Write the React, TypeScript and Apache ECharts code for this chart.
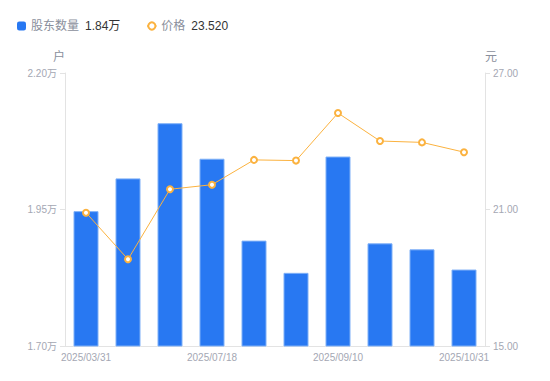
import React, { useEffect, useRef } from "react";
import * as echarts from "echarts";

const categories = [
  "2025/03/31",
  "2025/04/30",
  "2025/06/30",
  "2025/07/18",
  "2025/07/31",
  "2025/08/20",
  "2025/09/10",
  "2025/09/30",
  "2025/10/20",
  "2025/10/31",
];
const holders = [1.947, 2.007, 2.108, 2.043, 1.893, 1.834, 2.047, 1.888, 1.877, 1.84];
const prices = [20.86, 18.81, 21.89, 22.09, 23.18, 23.15, 25.24, 24.01, 23.95, 23.52];
const holderTicks = { min: 1.7, max: 2.2, interval: 0.25 };
const priceTicks = { min: 15, max: 27, interval: 6 };

export default function App() {
  const ref = useRef<HTMLDivElement>(null);
  useEffect(() => {
    if (!ref.current) return;
    const chart = echarts.init(ref.current, null, { renderer: "svg" });
    const font = "'Liberation Sans', 'Noto Sans CJK SC', sans-serif";
    const lastHolder = holders[holders.length - 1];
    const lastPrice = prices[prices.length - 1];
    chart.setOption({
      animation: false,
      textStyle: { fontFamily: font },
      legend: {
        left: 12,
        top: 15,
        itemWidth: 9,
        itemHeight: 9,
        itemGap: 26,
        selectedMode: false,
        data: [
          { name: "股东数量", icon: "roundRect", itemStyle: { borderWidth: 0 } },
          { name: "价格" },
        ],
        formatter: (name: string) =>
          name === "股东数量"
            ? `{a|${name}}{b|${lastHolder.toFixed(2)}万}`
            : `{a|${name}}{b|${lastPrice.toFixed(3)}}`,
        textStyle: {
          rich: {
            a: { color: "#8a8f9c", fontSize: 12, fontFamily: font, padding: [0, 6, 0, 0] },
            b: { color: "#333", fontSize: 12, fontFamily: font },
          },
        },
      },
      grid: { left: 65, right: 65, top: 73, bottom: 35 },
      xAxis: {
        type: "category",
        data: categories,
        axisLine: { lineStyle: { color: "#e3e3e3" } },
        axisTick: { show: false },
        axisLabel: {
          color: "#a4a7b3",
          fontSize: 10,
          interval: 2,
          margin: 6,
          fontFamily: font,
        },
      },
      yAxis: [
        {
          type: "value",
          name: "户",
          nameGap: 10,
          nameTextStyle: { color: "#8a8f9c", fontSize: 12, align: "right", padding: [0, 0, 0, 0] },
          min: holderTicks.min,
          max: holderTicks.max,
          interval: holderTicks.interval,
          splitLine: { show: false },
          axisLine: { show: true, lineStyle: { color: "#e3e3e3" } },
          axisTick: { show: true, length: 5, lineStyle: { color: "#e3e3e3" } },
          axisLabel: {
            color: "#a4a7b3",
            fontSize: 10,
            margin: 8,
            formatter: (v: number) => v.toFixed(2) + "万",
          },
        },
        {
          type: "value",
          name: "元",
          nameGap: 10,
          nameTextStyle: { color: "#8a8f9c", fontSize: 12, align: "left", padding: [0, 0, 0, 0] },
          min: priceTicks.min,
          max: priceTicks.max,
          interval: priceTicks.interval,
          splitLine: { show: false },
          axisLine: { show: true, lineStyle: { color: "#e3e3e3" } },
          axisTick: { show: true, length: 5, lineStyle: { color: "#e3e3e3" } },
          axisLabel: {
            color: "#a4a7b3",
            fontSize: 10,
            margin: 8,
            formatter: (v: number) => v.toFixed(2),
          },
        },
      ],
      series: [
        {
          name: "股东数量",
          type: "bar",
          yAxisIndex: 0,
          data: holders,
          barWidth: 25,
          itemStyle: { color: "#2878f2", borderColor: "#7fb0f7", borderWidth: 1 },
        },
        {
          name: "价格",
          type: "line",
          yAxisIndex: 1,
          data: prices,
          symbol: "emptyCircle",
          symbolSize: 6,
          lineStyle: { color: "#fbb23f", width: 1 },
          itemStyle: { color: "#fbb23f", borderWidth: 2 },
        },
      ],
    });
    return () => chart.dispose();
  }, []);
  return (
    <div
      ref={ref}
      style={{ position: "absolute", left: 0, top: 0, width: 550, height: 381 }}
    />
  );
}
